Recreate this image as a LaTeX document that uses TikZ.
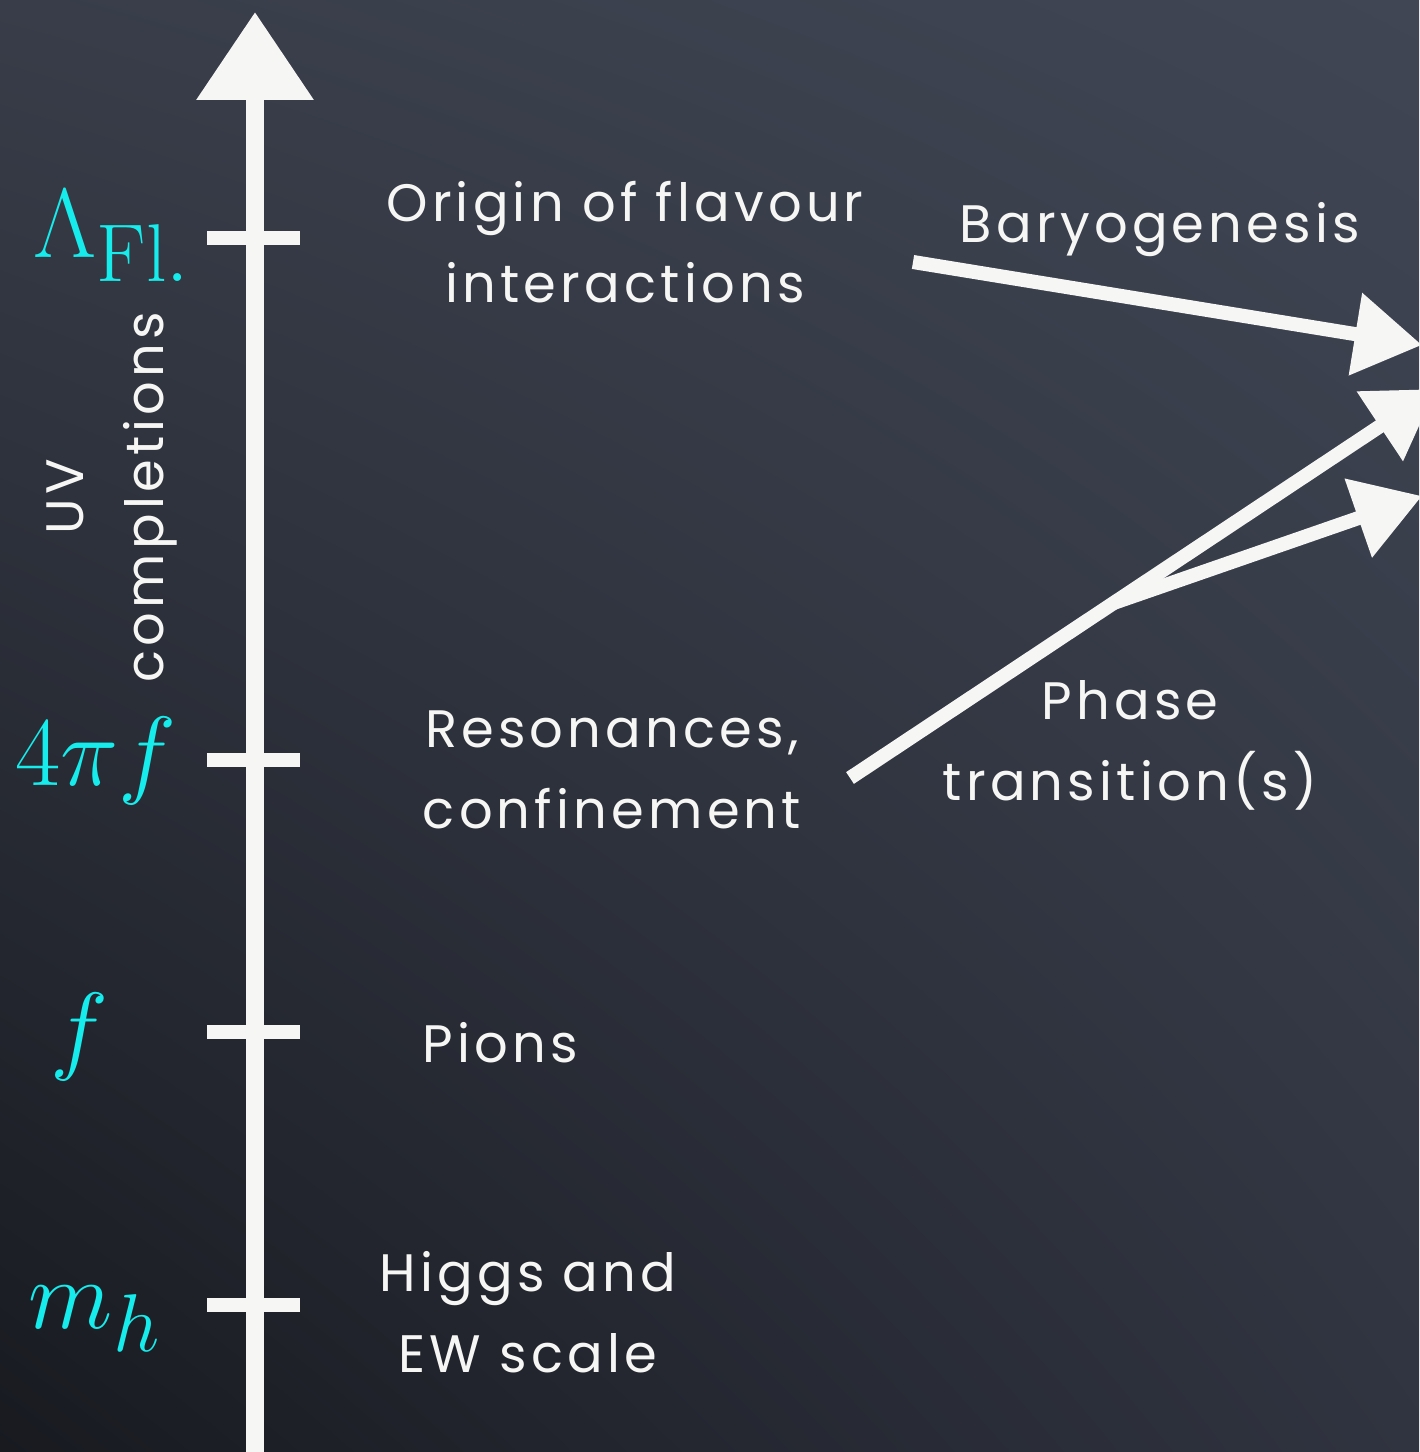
\documentclass[tikz,border=0pt]{standalone}
\usepackage[no-math]{fontspec}
\newfontfamily\chalkfont[LetterSpace=8]{Poppins}
\usetikzlibrary{arrows.meta,calc,shadings}
\definecolor{boardtl}{RGB}{56,61,73}
\definecolor{boardtr}{RGB}{64,70,84}
\definecolor{boardbl}{RGB}{24,26,32}
\definecolor{boardbr}{RGB}{48,52,64}
\definecolor{chalk}{RGB}{246,246,244}
\definecolor{scalecyan}{RGB}{22,236,236}
\tikzset{
  chalktext/.style={text=chalk, align=center, inner sep=0pt,
    font=\chalkfont\fontsize{30}{46}\selectfont},
  scalelabel/.style={text=scalecyan, inner sep=0pt, font=\Huge, scale=2.25},
  chalkline/.style={draw=chalk, line width=8pt},
  chalkarrow/.style={chalkline, -{Triangle[length=1.35cm,width=1.6cm]}},
}
\begin{document}
\begin{tikzpicture}[x=0.02cm, y=-0.02cm]
  % board
  \shade[upper left=boardtl, upper right=boardtr, lower left=boardbl, lower right=boardbr]
    (0,0) rectangle (1419,1452);
  \useasboundingbox (0,0) rectangle (1419,1452);
  % energy axis
  \coordinate (axbot) at (255,1460);
  \coordinate (axtop) at (255,12);
  \draw[chalkline, line width=10pt, -{Triangle[length=1.76cm,width=2.26cm]}] (axbot) -- (axtop);
  \foreach \y/\nm in {238/fl, 760/conf, 1032/pion, 1305/higgs} {
    \coordinate (tick-\nm-l) at (207,\y);
    \coordinate (tick-\nm-r) at (300,\y);
    \draw[chalkline] (tick-\nm-l) -- (tick-\nm-r);
  }
  % scales
  \node[scalelabel, anchor=base west] (lamfl) at (33,258) {$\Lambda_{\mathrm{Fl.}}$};
  \node[scalelabel, anchor=base west] (fourpif) at (15,785) {$4\pi f$};
  \node[scalelabel, anchor=base west] (fpi) at (50,1061) {$f$};
  \node[scalelabel, anchor=base west] (mh) at (28,1328) {$m_h$};
  % physics
  \node[chalktext] (flavour) at (625,242) {Origin of flavour\\interactions};
  \node[chalktext] (baryo) at (1160,230) {Baryogenesis};
  \node[chalktext] (reson) at (612,770) {Resonances,\\confinement};
  \node[chalktext] (phase) at (1130,745) {Phase\\transition(s)};
  \node[chalktext] (pions) at (500,1043) {Pions};
  \node[chalktext] (higgs) at (528,1312) {Higgs and\\EW scale};
  \node[chalktext, rotate=90] (uv) at (112,497) {UV\\completions};
  % arrows
  \coordinate (baryo-from) at (913,262);
  \coordinate (baryo-to) at (1422,345);
  \coordinate (phase-from) at (850,778);
  \coordinate (phase-to) at (1436,389);
  \coordinate (phase-mid) at ($(phase-from)!0.45!(phase-to)$);
  \coordinate (phase-low) at (1422,496);
  \draw[chalkarrow] (baryo-from) -- (baryo-to);
  \draw[chalkarrow] (phase-from) -- (phase-to);
  \draw[chalkarrow] (phase-mid) -- (phase-low);
\end{tikzpicture}
\end{document}
